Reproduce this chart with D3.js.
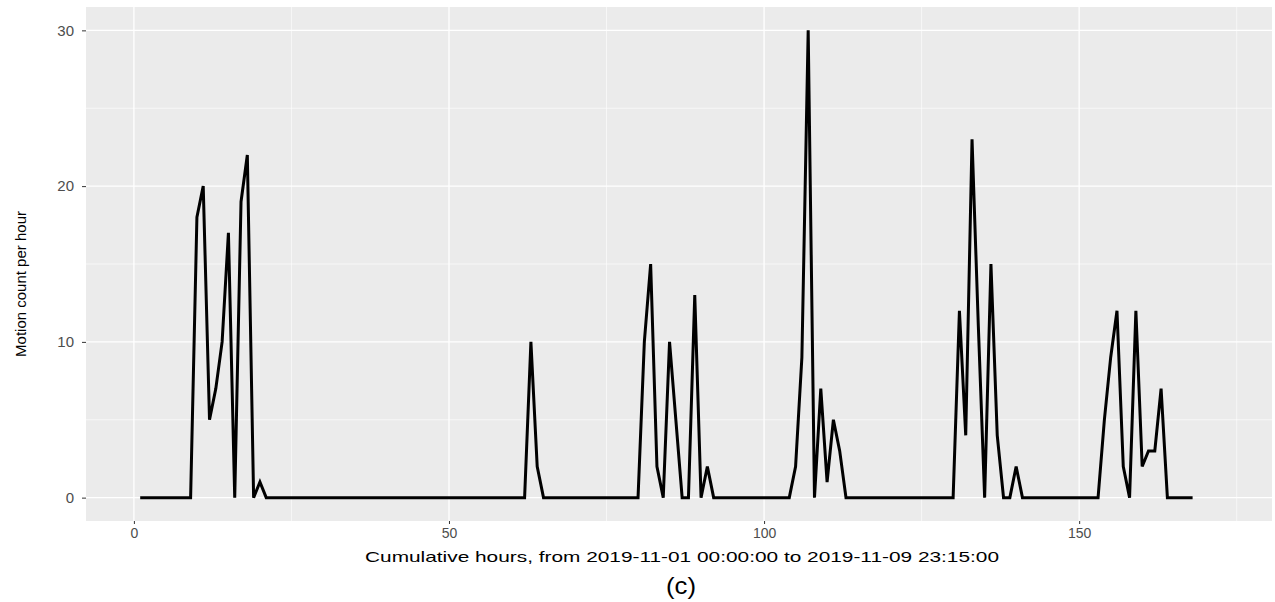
<html>
    <head>
        <style>
            body { margin: 0; background: #fff; }
            .tick text { font-family: "Liberation Sans", Arial, sans-serif; fill: #4d4d4d; }
        </style>
    </head>
    <body>
        <svg></svg>
        <script src="https://d3js.org/d3.v7.min.js"></script>
        <script>
            // hours 1..168, motion counts
            const hours = d3.range(1, 169);
            const counts = [
                0,0,0,0,0,0,0,0,0,18, 20,5,7,10,17,0,19,22,0,1,      // 1-20
                0,0,0,0,0,0,0,0,0,0, 0,0,0,0,0,0,0,0,0,0,            // 21-40
                0,0,0,0,0,0,0,0,0,0, 0,0,0,0,0,0,0,0,0,0,            // 41-60
                0,0,10,2,0,0,0,0,0,0, 0,0,0,0,0,0,0,0,0,0,           // 61-80
                10,15,2,0,10,5,0,0,13,0, 2,0,0,0,0,0,0,0,0,0,        // 81-100
                0,0,0,0,2,9,30,0,7,1, 5,3,0,0,0,0,0,0,0,0,           // 101-120
                0,0,0,0,0,0,0,0,0,0, 12,4,23,11,0,15,4,0,0,2,        // 121-140
                0,0,0,0,0,0,0,0,0,0, 0,0,0,5,9,12,2,0,12,2,          // 141-160
                3,3,7,0,0,0,0,0                                      // 161-168
            ];
            const xTicks = [0, 50, 100, 150];
            const xMinor = [25, 75, 125, 175];
            const yTicks = [0, 10, 20, 30];
            const yMinor = [5, 15, 25];
            const xTitle = "Cumulative hours, from 2019-11-01 00:00:00 to 2019-11-09 23:15:00";
            const yTitle = "Motion count per hour";
            const caption = "(c)";

            const width = 1275, height = 602;
            const panel = { left: 86, right: 1272, top: 7, bottom: 521 };

            const svg = d3.select("svg")
                .attr("width", width)
                .attr("height", height);

            const x = d3.scaleLinear().domain([-7.6, 180.6]).range([panel.left, panel.right]);
            const y = d3.scaleLinear().domain([-1.5, 31.5]).range([panel.bottom, panel.top]);

            // panel background
            svg.append("rect")
                .attr("x", panel.left)
                .attr("y", panel.top)
                .attr("width", panel.right - panel.left)
                .attr("height", panel.bottom - panel.top)
                .attr("fill", "#ebebeb");

            // minor grid
            svg.append("g").selectAll("line").data(yMinor).join("line")
                .attr("x1", panel.left).attr("x2", panel.right)
                .attr("y1", d => y(d)).attr("y2", d => y(d))
                .attr("stroke", "#fff").attr("stroke-width", 0.6);
            svg.append("g").selectAll("line").data(xMinor).join("line")
                .attr("y1", panel.top).attr("y2", panel.bottom)
                .attr("x1", d => x(d)).attr("x2", d => x(d))
                .attr("stroke", "#fff").attr("stroke-width", 0.6);

            // major grid
            svg.append("g").selectAll("line").data(yTicks).join("line")
                .attr("x1", panel.left).attr("x2", panel.right)
                .attr("y1", d => y(d)).attr("y2", d => y(d))
                .attr("stroke", "#fff").attr("stroke-width", 1.2);
            svg.append("g").selectAll("line").data(xTicks).join("line")
                .attr("y1", panel.top).attr("y2", panel.bottom)
                .attr("x1", d => x(d)).attr("x2", d => x(d))
                .attr("stroke", "#fff").attr("stroke-width", 1.3);

            // the line
            const line = d3.line()
                .x((d, i) => x(hours[i]))
                .y(d => y(d));

            svg.append("path")
                .datum(counts)
                .attr("d", line)
                .attr("fill", "none")
                .attr("stroke", "#000")
                .attr("stroke-width", 3)
                .attr("stroke-linejoin", "miter")
                .attr("stroke-miterlimit", 3);

            // axes
            const xAxis = svg.append("g")
                .attr("transform", "translate(0," + panel.bottom + ")")
                .call(d3.axisBottom(x).tickValues(xTicks).tickSize(3).tickPadding(4).tickFormat(d3.format("d")));
            const yAxis = svg.append("g")
                .attr("transform", "translate(" + panel.left + ",0)")
                .call(d3.axisLeft(y).tickValues(yTicks).tickSize(4).tickPadding(8).tickFormat(d3.format("d")));

            [xAxis, yAxis].forEach(function(a) {
                a.select(".domain").remove();
                a.selectAll(".tick line").attr("stroke", "#333").attr("stroke-width", 1);
            });
            xAxis.selectAll(".tick text").attr("font-size", 14);
            yAxis.selectAll(".tick text").attr("font-size", 15);

            // titles
            svg.append("text")
                .attr("x", 682)
                .attr("y", 562)
                .attr("text-anchor", "middle")
                .attr("font-family", "Liberation Sans, Arial, sans-serif")
                .attr("font-size", 15)
                .attr("textLength", 634)
                .attr("lengthAdjust", "spacingAndGlyphs")
                .attr("fill", "#000")
                .text(xTitle);

            svg.append("text")
                .attr("transform", "translate(26," + ((panel.top + panel.bottom) / 2 + 20) + ") rotate(-90)")
                .attr("text-anchor", "middle")
                .attr("font-family", "Liberation Sans Narrow, Liberation Sans, Arial, sans-serif")
                .attr("font-size", 15)
                .attr("fill", "#000")
                .text(yTitle);

            svg.append("text")
                .attr("x", 681)
                .attr("y", 594)
                .attr("text-anchor", "middle")
                .attr("font-family", "Liberation Sans, Arial, sans-serif")
                .attr("font-size", 24)
                .attr("textLength", 30)
                .attr("lengthAdjust", "spacingAndGlyphs")
                .attr("fill", "#000")
                .text(caption);
        </script>
    </body>
</html>
